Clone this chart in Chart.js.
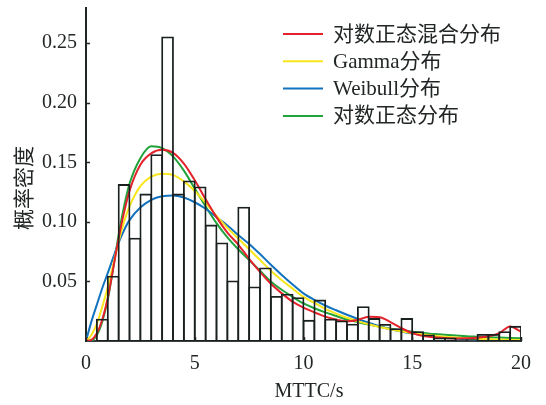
<!DOCTYPE html>
<html>
<head>
<meta charset="utf-8">
<script src="https://cdn.jsdelivr.net/npm/chart.js@4.4.1/dist/chart.umd.min.js"></script>
<style>
  html, body { margin: 0; padding: 0; background: #ffffff; }
  canvas { display: block; }
</style>
</head>
<body>
<canvas id="chart" width="546" height="405"></canvas>
<script>
// Histogram of MTTC: bin centres (width 0.5 s) and density per bin
const binCenters = [
  0.25, 0.75, 1.25, 1.75, 2.25, 2.75, 3.25, 3.75, 4.25, 4.75,
  5.25, 5.75, 6.25, 6.75, 7.25, 7.75, 8.25, 8.75, 9.25, 9.75,
  10.25, 10.75, 11.25, 11.75, 12.25, 12.75, 13.25, 13.75, 14.25, 14.75,
  15.25, 15.75, 16.25, 16.75, 17.25, 17.75, 18.25, 18.75, 19.25, 19.75
];
const binDensity = [
  0, 0.018, 0.054, 0.131, 0.086, 0.123, 0.156, 0.255, 0.123, 0.134,
  0.129, 0.097, 0.082, 0.050, 0.112, 0.045, 0.061, 0.037, 0.039, 0.036,
  0.017, 0.034, 0.018, 0.0165, 0.0138, 0.0284, 0.0185, 0.0136, 0.010, 0.0185,
  0.0074, 0.0048, 0.0022, 0.0022, 0.0006, 0.0008, 0.0052, 0.0052, 0.0074, 0.012
];

// Fitted density curves, sampled along MTTC
const curveX = [
  0, 0.25, 0.5, 0.75, 1, 1.25, 1.5, 1.75, 2, 2.5,
  3, 3.5, 4, 4.5, 5, 5.5, 6, 6.5, 7, 7.5,
  8, 8.5, 9, 9.5, 10, 10.5, 11, 11.5, 12, 12.5,
  13, 13.5, 14, 14.5, 15, 15.5, 16, 16.5, 17, 17.5,
  18, 18.5, 19, 19.5, 20
];
const mixLogNormal = [
  0, 0.001, 0.0065, 0.018, 0.036, 0.061, 0.086, 0.108, 0.126, 0.148,
  0.1575, 0.1605, 0.158, 0.149, 0.135, 0.119, 0.104, 0.091, 0.081, 0.069,
  0.058, 0.048, 0.040, 0.033, 0.028, 0.024, 0.0205, 0.018, 0.0165, 0.0178,
  0.0203, 0.020, 0.0158, 0.0108, 0.0066, 0.0042, 0.0031, 0.0025, 0.0022, 0.0023,
  0.0028, 0.0040, 0.0065, 0.0122, 0.0078
];
const gammaFit = [
  0, 0.005, 0.0145, 0.029, 0.045, 0.064, 0.0835, 0.100, 0.113, 0.130,
  0.138, 0.1405, 0.1395, 0.134, 0.126, 0.116, 0.105, 0.095, 0.086, 0.077,
  0.068, 0.059, 0.051, 0.044, 0.037, 0.032, 0.027, 0.023, 0.0195, 0.0165,
  0.014, 0.0118, 0.0098, 0.0081, 0.0066, 0.0054, 0.0044, 0.0036, 0.0029, 0.0023,
  0.0019, 0.0015, 0.0012, 0.0010, 0.0008
];
const weibullFit = [
  0, 0.0165, 0.0305, 0.0445, 0.057, 0.070, 0.0825, 0.093, 0.1015, 0.112,
  0.1185, 0.1215, 0.1222, 0.1205, 0.1165, 0.111, 0.104, 0.097, 0.089, 0.0815,
  0.073, 0.064, 0.0555, 0.0475, 0.040, 0.0345, 0.0298, 0.0258, 0.022, 0.0185,
  0.0153, 0.0124, 0.0099, 0.0079, 0.0062, 0.0049, 0.0038, 0.0029, 0.0022, 0.0016,
  0.0012, 0.0009, 0.0007, 0.0005, 0.0004
];
const logNormalFit = [
  0, 0.0004, 0.005, 0.0165, 0.035, 0.061, 0.089, 0.113, 0.132, 0.1535,
  0.1635, 0.162, 0.155, 0.143, 0.128, 0.113, 0.099, 0.087, 0.077, 0.068,
  0.059, 0.050, 0.043, 0.037, 0.0315, 0.0275, 0.024, 0.021, 0.018, 0.0158,
  0.0138, 0.012, 0.0104, 0.0090, 0.0078, 0.0068, 0.0059, 0.0052, 0.0046, 0.0040,
  0.0036, 0.0032, 0.0029, 0.0026, 0.0023
];

const seriesNames = ['对数正态混合分布', 'Gamma分布', 'Weibull分布', '对数正态分布'];
const xTickValues = [0, 5, 10, 15, 20];
const xTickLabels = ['0', '5', '10', '15', '20'];
const yTickValues = [0.05, 0.10, 0.15, 0.20, 0.25];
const yTickLabels = ['0.05', '0.10', '0.15', '0.20', '0.25'];
const xTitle = 'MTTC/s';
const yTitle = '概率密度';

const INK = '#222626';
const SERIF = '"Liberation Serif", "Noto Sans CJK SC", serif';
const colors = ['#e3222b', '#f7e61c', '#1372bd', '#21a23a'];

const toPoints = ys => curveX.map((x, i) => ({ x: x, y: ys[i] }));

function curve(label, ys, color) {
  return {
    type: 'line',
    label: label,
    data: toPoints(ys),
    borderColor: color,
    backgroundColor: color,
    borderWidth: 2,
    pointRadius: 0,
    fill: false,
    cubicInterpolationMode: 'monotone',
    order: 1
  };
}

// Legend, axis titles and inward tick marks
const decorations = {
  id: 'decorations',
  afterDatasetsDraw(chart) {
    const ctx = chart.ctx;
    const area = chart.chartArea;
    const xs = chart.scales.x, ys = chart.scales.y;
    ctx.save();
    ctx.strokeStyle = INK;
    ctx.lineWidth = 1.5;
    ctx.beginPath();
    yTickValues.forEach(v => {
      const y = Math.round(ys.getPixelForValue(v)) + 0.5;
      ctx.moveTo(area.left, y);
      ctx.lineTo(area.left + 4, y);
    });
    xTickValues.forEach(v => {
      const x = Math.round(xs.getPixelForValue(v)) + 0.5;
      ctx.moveTo(x, area.bottom);
      ctx.lineTo(x, area.bottom - 4);
    });
    ctx.stroke();
    ctx.restore();
  },
  afterDraw(chart) {
    const ctx = chart.ctx;
    ctx.save();
    // legend
    const lines = chart.data.datasets.filter(d => d.type === 'line');
    ctx.font = '21px ' + SERIF;
    ctx.textBaseline = 'middle';
    ctx.textAlign = 'left';
    lines.forEach((d, i) => {
      const y = 34 + i * 27.3;
      ctx.strokeStyle = d.borderColor;
      ctx.lineWidth = 2;
      ctx.beginPath();
      ctx.moveTo(283, y);
      ctx.lineTo(323, y);
      ctx.stroke();
      ctx.fillStyle = INK;
      ctx.fillText(d.label, 333, y + 1);
    });
    // axis titles
    ctx.font = '20px ' + SERIF;
    ctx.fillStyle = INK;
    ctx.textAlign = 'center';
    ctx.fillText(xTitle, 309, 392);
    ctx.translate(23, 188);
    ctx.rotate(-Math.PI / 2);
    ctx.font = '21px "Noto Sans CJK SC", sans-serif';
    ctx.fillText(yTitle, 0, 0);
    ctx.restore();
  }
};

new Chart(document.getElementById('chart'), {
  type: 'bar',
  data: {
    datasets: [
      {
        type: 'bar',
        label: 'MTTC',
        data: binCenters.map((x, i) => ({ x: x, y: binDensity[i] })),
        backgroundColor: 'rgba(255,255,255,0)',
        borderColor: '#1a2020',
        // a hairline border inflated both ways gives an outline centred on each bin edge
        borderWidth: 0.02,
        inflateAmount: 0.9,
        borderSkipped: false,
        barPercentage: 1,
        categoryPercentage: 1,
        order: 0
      },
      curve(seriesNames[0], mixLogNormal, colors[0]),
      curve(seriesNames[1], gammaFit, colors[1]),
      curve(seriesNames[2], weibullFit, colors[2]),
      curve(seriesNames[3], logNormalFit, colors[3])
    ]
  },
  options: {
    responsive: false,
    animation: false,
    layout: { padding: { top: 7.5, right: 25, bottom: 0, left: 0 } },
    plugins: { legend: { display: false }, tooltip: { enabled: false } },
    scales: {
      x: {
        type: 'linear',
        min: 0,
        max: 20,
        offset: false,
        grid: { display: false, drawTicks: false, offset: false },
        border: { display: true, color: '#3a3f3f', width: 2 },
        afterBuildTicks: s => { s.ticks = xTickValues.map(v => ({ value: v })); },
        afterFit: s => { s.height = 64; s.paddingLeft = 0; s.paddingRight = 0; },
        ticks: {
          autoSkip: false,
          maxRotation: 0,
          padding: 11,
          color: INK,
          font: { family: SERIF, size: 20 },
          callback: (v, i) => xTickLabels[i]
        }
      },
      y: {
        type: 'linear',
        min: 0,
        max: 0.28,
        grid: { display: false, drawTicks: false },
        border: { display: true, color: INK, width: 2 },
        afterBuildTicks: s => { s.ticks = yTickValues.map(v => ({ value: v })); },
        afterFit: s => { s.width = 86; s.paddingTop = 0; s.paddingBottom = 0; },
        ticks: {
          padding: 9,
          color: INK,
          font: { family: SERIF, size: 20 },
          callback: (v, i) => yTickLabels[i]
        }
      }
    }
  },
  plugins: [decorations]
});
</script>
</body>
</html>
